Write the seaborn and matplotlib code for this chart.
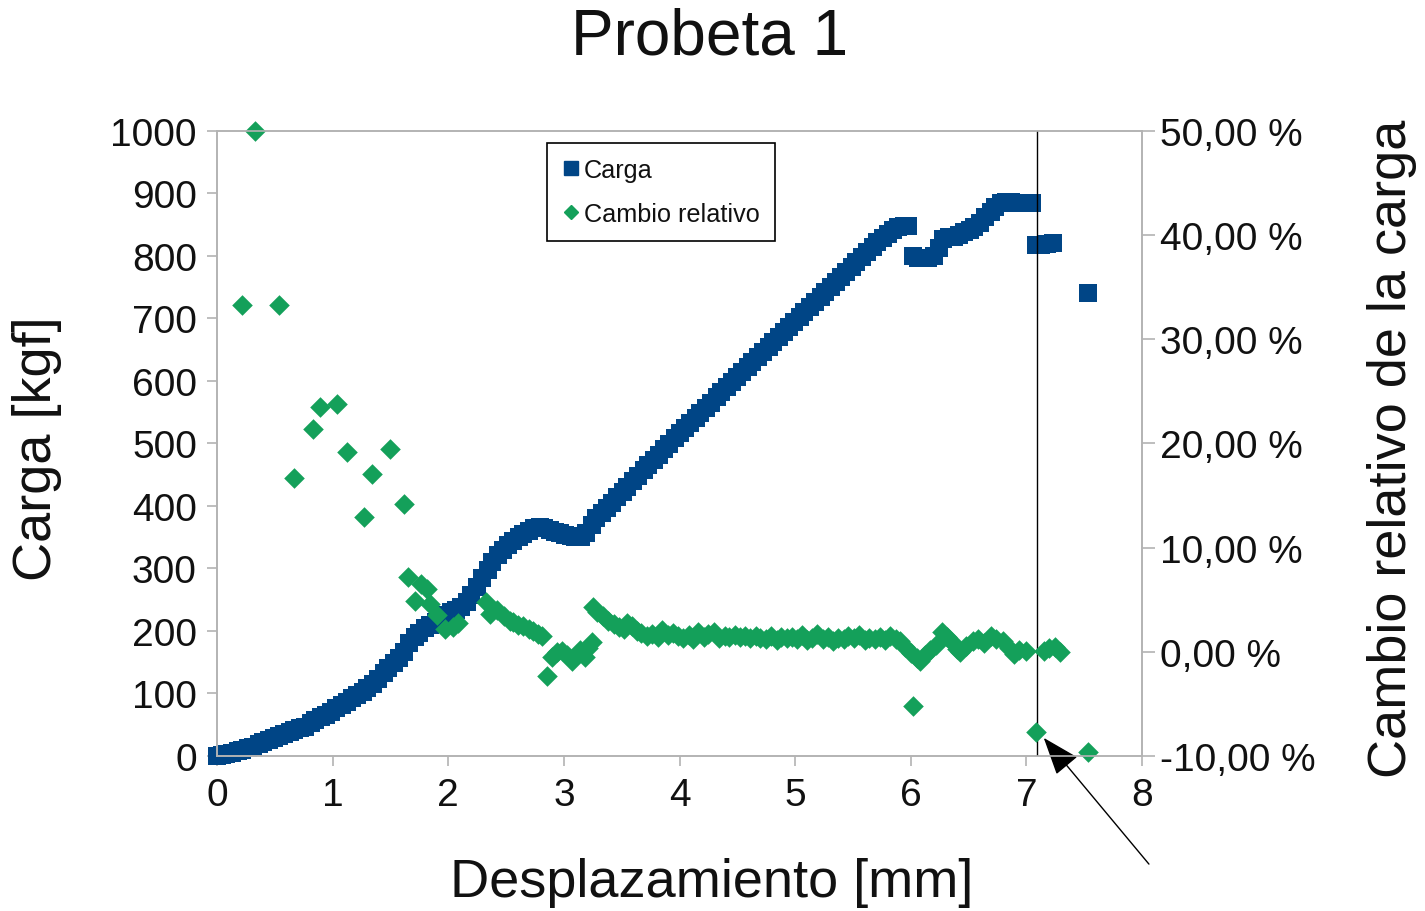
import matplotlib
matplotlib.use('Agg')
import matplotlib.pyplot as plt
import seaborn as sns
import pandas as pd
from matplotlib.ticker import FuncFormatter
from matplotlib.lines import Line2D

# ---------------- data ----------------
carga_x = [0.00, 0.04, 0.08, 0.13, 0.18, 0.22, 0.27, 0.31, 0.36, 0.40, 0.45, 0.49, 0.54, 0.58,
           0.63, 0.67, 0.72, 0.76, 0.81, 0.85, 0.90, 0.94, 0.99, 1.03, 1.08, 1.12, 1.17, 1.21,
           1.26, 1.30, 1.35, 1.39, 1.44, 1.48, 1.53, 1.57, 1.62, 1.66, 1.71, 1.75, 1.80, 1.84,
           1.89, 1.93, 1.98, 2.02, 2.07, 2.11, 2.16, 2.20, 2.25, 2.29, 2.34, 2.38, 2.43, 2.47,
           2.52, 2.56, 2.61, 2.65, 2.70, 2.74, 2.79, 2.83, 2.88, 2.92, 2.97, 3.01, 3.06, 3.10,
           3.15, 3.19, 3.24, 3.28, 3.33, 3.37, 3.42, 3.46, 3.51, 3.55, 3.60, 3.64, 3.69, 3.73,
           3.78, 3.82, 3.87, 3.91, 3.96, 4.00, 4.05, 4.09, 4.14, 4.18, 4.23, 4.27, 4.32, 4.36,
           4.41, 4.45, 4.50, 4.54, 4.59, 4.63, 4.68, 4.72, 4.77, 4.81, 4.86, 4.90, 4.95, 4.99,
           5.04, 5.08, 5.13, 5.17, 5.22, 5.26, 5.31, 5.35, 5.40, 5.44, 5.49, 5.53, 5.58, 5.62,
           5.67, 5.71, 5.76, 5.80, 5.85, 5.89, 5.94, 5.98, 6.02, 6.06, 6.11, 6.15, 6.20, 6.24,
           6.28, 6.33, 6.37, 6.42, 6.46, 6.51, 6.55, 6.60, 6.64, 6.69, 6.73, 6.78, 6.82, 6.87,
           6.91, 6.96, 7.00, 7.05, 7.08, 7.13, 7.18, 7.23, 7.53]
carga_kgf = [0, 1, 3, 5, 8, 10, 13, 15, 19, 22, 25, 28, 32, 35,
             38, 41, 44, 47, 52, 57, 62, 66, 71, 76, 81, 87, 93, 98,
             103, 108, 115, 123, 132, 140, 148, 156, 166, 180, 190, 197, 204, 210,
             215, 220, 226, 230, 234, 238, 247, 258, 271, 284, 298, 311, 322, 330,
             337, 344, 350, 355, 360, 364, 366, 365, 362, 359, 356, 354, 352, 351,
             351, 357, 370, 380, 388, 396, 405, 414, 423, 431, 440, 448, 457, 465,
             474, 482, 491, 499, 508, 516, 524, 532, 541, 549, 557, 565, 574, 582,
             590, 598, 607, 615, 623, 631, 639, 647, 655, 663, 671, 679, 687, 695,
             703, 711, 719, 727, 735, 743, 751, 759, 767, 775, 783, 790, 798, 806,
             814, 822, 829, 835, 841, 846, 848, 848, 800, 797, 796, 797, 800, 812,
             827, 830, 831, 834, 838, 842, 846, 853, 862, 871, 879, 884, 886, 886,
             885, 884, 884, 884, 818, 818, 819, 820, 741]

cambio_x = [0.22, 0.33, 0.54, 0.67, 0.83, 0.89, 1.04, 1.12, 1.27, 1.34, 1.50, 1.62,
            1.65, 1.71, 1.76, 1.82, 1.84, 1.90, 1.97, 2.04, 2.08,
            2.33, 2.36, 2.42, 2.48, 2.53, 2.56, 2.60, 2.65, 2.70, 2.73, 2.78, 2.81,
            2.85, 2.90, 2.94, 2.98, 3.03, 3.07, 3.11, 3.14, 3.18, 3.21, 3.24,
            3.25, 3.29, 3.34, 3.38, 3.43, 3.48, 3.52, 3.55, 3.59, 3.63,
            3.67, 3.72, 3.76, 3.81, 3.85, 3.90, 3.94, 3.99, 4.03, 4.08, 4.12, 4.16,
            4.21, 4.25, 4.30, 4.34, 4.39, 4.43, 4.48, 4.52, 4.57, 4.61, 4.66, 4.70,
            4.75, 4.79, 4.84, 4.88, 4.93, 4.97, 5.02, 5.06, 5.10, 5.15, 5.19, 5.24,
            5.28, 5.33, 5.37, 5.42, 5.46, 5.51, 5.55, 5.60, 5.64, 5.69, 5.73, 5.78,
            5.82, 5.87, 5.91, 5.95, 6.00, 6.02, 6.05, 6.08, 6.12, 6.17, 6.22, 6.27,
            6.31, 6.36, 6.40, 6.43, 6.48, 6.54, 6.58, 6.63, 6.69, 6.74, 6.80, 6.85,
            6.89, 6.94, 7.00, 7.08, 7.15, 7.20, 7.25, 7.29, 7.53]
cambio_pct = [33.3, 50.0, 33.3, 16.7, 21.4, 23.5, 23.8, 19.2, 12.9, 17.1, 19.5, 14.2,
              7.2, 4.9, 6.5, 6.0, 4.6, 3.5, 2.2, 2.4, 2.8,
              4.8, 3.6, 4.0, 3.4, 3.0, 2.9, 2.6, 2.5, 2.2, 2.0, 1.7, 1.5,
              -2.3, -0.5, 0.0, 0.1, -0.3, -0.9, -0.2, 0.2, -0.5, 0.4, 0.9,
              4.3, 3.8, 3.4, 3.0, 2.7, 2.4, 2.2, 2.8, 2.5, 2.0,
              1.8, 1.5, 1.7, 1.4, 2.1, 1.6, 1.8, 1.5, 1.3, 1.6, 1.2, 1.9,
              1.4, 1.7, 1.9, 1.3, 1.5, 1.4, 1.6, 1.4, 1.5, 1.3, 1.5, 1.3,
              1.2, 1.5, 1.1, 1.4, 1.3, 1.4, 1.2, 1.6, 1.1, 1.3, 1.7, 1.2,
              1.4, 1.0, 1.3, 1.2, 1.5, 1.3, 1.6, 1.1, 1.3, 1.2, 1.4, 1.1,
              1.5, 1.2, 1.0, 0.5, -0.1, -5.2, -0.6, -0.9, -0.3, 0.2, 0.7, 1.9,
              1.4, 0.9, 0.3, 0.0, 0.6, 1.0, 1.2, 0.8, 1.5, 1.2, 1.0, 0.4,
              -0.2, 0.2, 0.1, -7.7, 0.1, 0.4, 0.5, 0.0, -9.6]

x_ticks = [0, 1, 2, 3, 4, 5, 6, 7, 8]
y_ticks = [0, 100, 200, 300, 400, 500, 600, 700, 800, 900, 1000]
y2_ticks = [-10, 0, 10, 20, 30, 40, 50]

title = "Probeta 1"
xlabel = "Desplazamiento [mm]"
ylabel = "Carga [kgf]"
y2label = "Cambio relativo de la carga"
series_names = ["Carga", "Cambio relativo"]
marker_x = 7.09          # vertical reference line
arrow_tip = (7.15, 29)
arrow_tail = (8.06, -173)

BLUE = "#004586"
GREEN = "#14a05a"
GRAY = "#b3b3b3"

# ---------------- figure ----------------
sns.set_theme(style="white")
plt.rcParams['font.family'] = ['Liberation Sans', 'DejaVu Sans']

fig = plt.figure(figsize=(14.25, 9.12), dpi=100)
ax = fig.add_axes([0.1523, 0.1700, 0.6491, 0.6853])
ax2 = ax.twinx()

df1 = pd.DataFrame({"x": carga_x, "y": carga_kgf})
df2 = pd.DataFrame({"x": cambio_x, "y": cambio_pct})

sns.scatterplot(data=df1, x="x", y="y", marker="s", s=180, color=BLUE,
                edgecolor=BLUE, linewidth=0, ax=ax, legend=False, clip_on=False)
sns.scatterplot(data=df2, x="x", y="y", marker="D", s=110, color=GREEN,
                edgecolor=GREEN, linewidth=0, ax=ax2, legend=False, clip_on=False)

ax.axvline(marker_x, color="black", lw=1.0, zorder=5)

ax.set_xlim(0, 8)
ax.set_ylim(0, 1000)
ax2.set_ylim(-10, 50)
ax.set_xticks(x_ticks)
ax.set_yticks(y_ticks)
ax2.set_yticks(y2_ticks)
ax.xaxis.set_major_formatter(FuncFormatter(lambda v, p: f"{v:.0f}"))
ax2.yaxis.set_major_formatter(FuncFormatter(lambda v, p: f"{v:.2f}".replace(".", ",") + " %"))

ax.set_xlabel("")
ax.set_ylabel("")
ax2.set_ylabel("")

for a in (ax, ax2):
    for sp in a.spines.values():
        sp.set_color(GRAY)
        sp.set_linewidth(1.2)
        sp.set_visible(True)

ax.tick_params(axis="x", bottom=True, direction="out", length=7, width=1.2,
               color=GRAY, labelsize=28, pad=8.5, labelcolor="#111111")
ax.tick_params(axis="y", left=True, direction="out", length=7, width=1.2,
               color=GRAY, labelsize=28, pad=7.5, labelcolor="#111111")
ax2.tick_params(axis="y", right=True, direction="out", length=9, width=1.2,
                color=GRAY, labelsize=28, pad=4, labelcolor="#111111")

ax.annotate("", xy=arrow_tip, xytext=arrow_tail, xycoords="data",
            arrowprops=dict(arrowstyle="-|>,head_length=0.6,head_width=0.22",
                            mutation_scale=40, color="black", lw=1.0,
                            shrinkA=0, shrinkB=0),
            annotation_clip=False, zorder=6)

fig.text(0.498, 0.959, title, ha="center", va="center", fontsize=46, color="#111111")
fig.text(0.4996, 0.032, xlabel, ha="center", va="center", fontsize=39, color="#111111")
fig.text(0.026, 0.508, ylabel, ha="center", va="center", rotation=90, fontsize=39, color="#111111")
fig.text(0.977, 0.508, y2label, ha="center", va="center", rotation=90, fontsize=39, color="#111111")

handles = [Line2D([], [], marker="s", ls="", color=BLUE, markersize=10.5),
           Line2D([], [], marker="D", ls="", color=GREEN, markersize=7.5)]
leg = ax2.legend(handles, series_names, loc="upper left", bbox_to_anchor=(0.357, 0.981),
                 fontsize=18.2, frameon=True, fancybox=False, framealpha=1,
                 edgecolor="black", handlelength=0.7, handletextpad=0.15,
                 labelspacing=0.78, borderpad=0.6, borderaxespad=0)
leg.get_frame().set_linewidth(1.2)
for t in leg.get_texts():
    t.set_color("#111111")

fig.savefig("out.png", dpi=100)
